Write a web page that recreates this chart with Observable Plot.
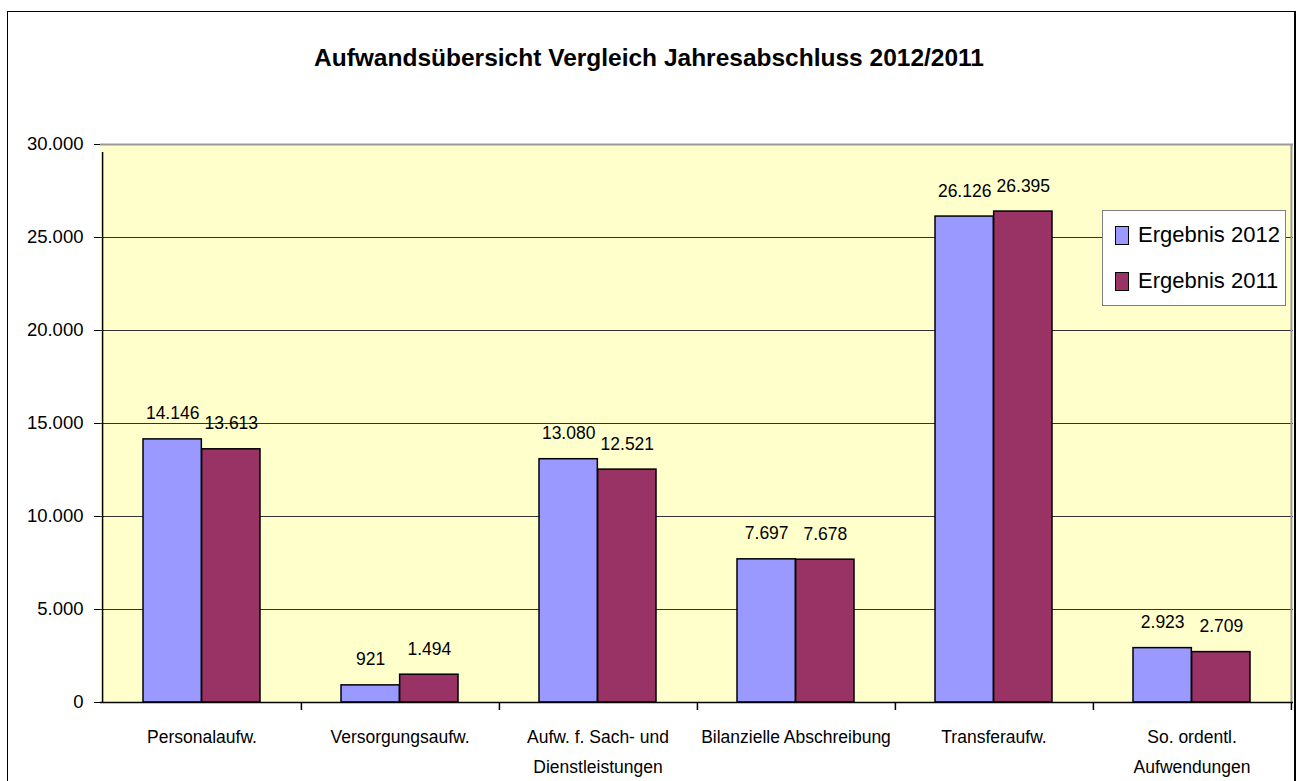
<!DOCTYPE html>
<html>
<head>
<meta charset="utf-8">
<script src="https://cdn.jsdelivr.net/npm/d3@7"></script>
<script src="https://cdn.jsdelivr.net/npm/@observablehq/plot@0.6"></script>
<style>
  html, body { margin: 0; padding: 0; background: #fff; }
  body { width: 1300px; height: 781px; position: relative; overflow: hidden; font-family: "Liberation Sans", Arial, sans-serif; }
  #frame { position: absolute; left: 7px; top: 11px; width: 1289px; height: 800px; border: 1.5px solid #000; border-right: 2px solid #000; box-sizing: border-box; }
  #title { position: absolute; left: 0; top: 44px; width: 1298px; text-align: center; font-weight: bold; font-size: 24.5px; color: #000; }
  #chart { position: absolute; left: 0; top: 0; }
  #legend { position: absolute; left: 1102px; top: 210px; width: 184px; height: 96px; box-sizing: border-box; border: 1px solid #808080; background: #fff; }
  .row { position: absolute; left: 12px; height: 30px; display: flex; align-items: center; font-size: 22px; color: #000; white-space: nowrap; }
  .sw { width: 14px; height: 19px; box-sizing: border-box; border: 1.5px solid #000; margin-right: 9px; flex: none; }
</style>
</head>
<body>
<div id="frame"></div>
<div id="chart"></div>
<div id="title">Aufwandsübersicht Vergleich Jahresabschluss 2012/2011</div>
<div id="legend"></div>
<script>
const categories = ["Personalaufw.", "Versorgungsaufw.", "Aufw. f. Sach- und\nDienstleistungen", "Bilanzielle Abschreibung", "Transferaufw.", "So. ordentl.\nAufwendungen"];
const series = ["Ergebnis 2012", "Ergebnis 2011"];
const values2012 = [14146, 921, 13080, 7697, 26126, 2923];
const values2011 = [13613, 1494, 12521, 7678, 26395, 2709];
const yTicks = [0, 5000, 10000, 15000, 20000, 25000, 30000];
const colors = ["#9999FF", "#993366"];

const locale = d3.formatLocale({decimal: ",", thousands: ".", grouping: [3], currency: ["", " €"]});
const fmt = locale.format(",d");

const rows = [];
categories.forEach((c, i) => {
  rows.push({cat: c, series: series[0], value: values2012[i], k: 0});
  rows.push({cat: c, series: series[1], value: values2011[i], k: 1});
});

const W = 1300, H = 781, mL = 100, mR = 7, mT = 144, mB = 79;
const pInner = 0.41;
const step = (W - mL - mR) / categories.length;
const bw = step * (1 - pInner);
const half = bw / 2;

const chart = Plot.plot({
  width: W, height: H,
  marginLeft: mL, marginRight: mR, marginTop: mT, marginBottom: mB,
  style: {fontFamily: '"Liberation Sans", Arial, sans-serif', fontSize: "18px", color: "#000", background: "transparent", overflow: "visible"},
  x: {domain: categories, paddingInner: pInner, paddingOuter: pInner / 2, label: null},
  y: {domain: [0, 30000], ticks: yTicks, tickFormat: fmt, label: null},
  color: {domain: series, range: colors},
  marks: [
    Plot.frame({fill: "#FFFFCC", stroke: null}),
    Plot.ruleY(yTicks.filter(d => d > 0 && d < 30000), {stroke: "#333", strokeWidth: 1}),
    Plot.ruleY([30000], {stroke: "#999", strokeWidth: 2}),
    Plot.ruleX([categories[categories.length - 1]], {y1: 0, y2: 30000, dx: step / 2, stroke: "#999", strokeWidth: 2}),
    Plot.barY(rows.filter(d => d.k === 0), {x: "cat", y: "value", fill: "series", stroke: "#000", strokeWidth: 1.5, insetRight: half}),
    Plot.barY(rows.filter(d => d.k === 1), {x: "cat", y: "value", fill: "series", stroke: "#000", strokeWidth: 1.5, insetLeft: half}),
    Plot.text(rows.filter(d => d.k === 0), {x: "cat", y: "value", text: d => fmt(d.value), dx: -half / 2, dy: -20, lineAnchor: "bottom", fontSize: 17.5}),
    Plot.text(rows.filter(d => d.k === 1), {x: "cat", y: "value", text: d => fmt(d.value), dx: half / 2, dy: -20, lineAnchor: "bottom", fontSize: 17.5}),
    Plot.ruleY([0], {stroke: "#000", strokeWidth: 1.5}),
    Plot.ruleX([categories[0]], {y1: 0, y2: 30000, dx: -step / 2, stroke: "#000", strokeWidth: 1.5, insetBottom: -8}),
    Plot.ruleX(categories, {y1: 0, y2: 0, dx: step / 2, stroke: "#000", strokeWidth: 1.5, insetBottom: -8}),
    Plot.axisY({ticks: yTicks, tickFormat: fmt, tickSize: 6, tickPadding: 11, fontSize: 18.5, stroke: "#000"}),
    Plot.axisX({tickSize: 0, tickPadding: 19, fontSize: 17.5, lineHeight: 1.72})
  ]
});
document.getElementById("chart").appendChild(chart);

const legend = document.getElementById("legend");
series.forEach((s, i) => {
  const r = document.createElement("div");
  r.className = "row";
  r.style.top = (i === 0 ? 9 : 55) + "px";
  const sw = document.createElement("div");
  sw.className = "sw";
  sw.style.background = colors[i];
  r.appendChild(sw);
  const t = document.createElement("span");
  t.textContent = s;
  r.appendChild(t);
  legend.appendChild(r);
});
</script>
</body>
</html>
